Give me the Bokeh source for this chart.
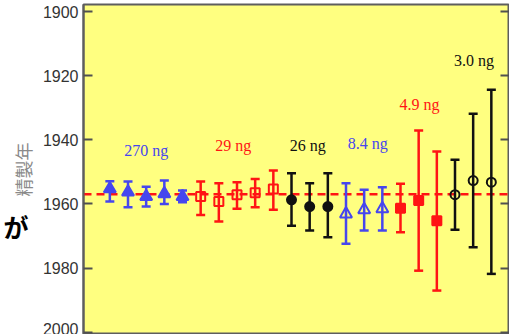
from bokeh.plotting import figure
from bokeh.models import (ColumnDataSource, Range1d, FixedTicker, LinearAxis,
                          Whisker, TeeHead, Span, CustomJSTickFormatter)
from bokeh.core.properties import value
from bokeh.embed import file_html
from bokeh.resources import INLINE

# ---------------- data ----------------
group_names = ["270 ng", "29 ng", "26 ng", "8.4 ng", "4.9 ng", "3.0 ng"]
group_sizes = [5, 5, 3, 3, 3, 3]
group_colors = ["#4646ee", "#ff1414", "#111111", "#4646ee", "#ff1414", "#111111"]
group_markers = ["triangle", "square", "circle", "triangle", "square", "circle"]
group_filled = [True, False, True, False, True, False]
group_marker_size = [12, 9, 9, 12, 9, 9]

# purification year (centre) and error-bar extents
year = [1955.3, 1956.3, 1957.7, 1956.8, 1957.7,
        1957.7, 1959.2, 1957.1, 1956.5, 1955.3,
        1958.7, 1960.8, 1960.8,
        1963.1, 1961.8, 1961.5,
        1961.3, 1958.9, 1965.2,
        1957.1, 1952.7, 1953.2]
err_low = [1952.9, 1953.0, 1954.6, 1952.7, 1955.8,
           1953.0, 1953.5, 1953.2, 1952.2, 1949.6,
           1950.4, 1953.5, 1950.4,
           1953.5, 1955.6, 1954.8,
           1953.7, 1937.1, 1943.6,
           1946.2, 1931.9, 1924.4]
err_high = [1959.2, 1961.0, 1960.8, 1960.0, 1959.5,
            1963.4, 1965.5, 1961.5, 1961.0, 1961.8,
            1966.8, 1968.3, 1970.4,
            1972.4, 1968.3, 1968.3,
            1968.8, 1980.8, 1987.0,
            1968.0, 1973.5, 1981.8]

reference_year = 1957.0

# group label positions (index position, year)
label_x = [3.0, 7.8, 11.9, 15.2, 18.05, 21.05]
label_y = [1943.3, 1941.8, 1941.8, 1941.2, 1929.0, 1915.3]

y_ticks = [1900, 1920, 1940, 1960, 1980, 2000]
y_label = "精製年"
side_text = "が"
side_text_year = 1967   # vertical level of the side character

# ---------------- figure ----------------
p = figure(width=509, height=334, output_backend="svg", toolbar_location=None,
           x_axis_location=None, y_axis_location="left",
           x_range=Range1d(-0.45, 23.0), y_range=Range1d(2000.7, 1897.8),
           min_border_left=77, min_border_right=0, min_border_top=4,
           min_border_bottom=0)
p.background_fill_color = "#ffff80"
p.border_fill_color = "white"
p.outline_line_color = "#5e5e5e"
p.outline_line_width = 2
p.grid.visible = False

ax = p.yaxis[0]
ax.ticker = FixedTicker(ticks=y_ticks)
ax.major_tick_in = 9
ax.major_tick_out = 0
ax.minor_tick_line_color = None
ax.major_tick_line_color = "#505050"
ax.major_tick_line_width = 2
ax.axis_line_color = "#5e5e5e"
ax.axis_line_width = 2
ax.major_label_text_font = "Liberation Sans"
ax.major_label_text_font_size = "16px"
ax.major_label_text_color = "#333333"
ax.major_label_standoff = 5
ax.axis_label = y_label
ax.axis_label_text_font = "Noto Sans CJK JP"
ax.axis_label_text_font_size = "18px"
ax.axis_label_text_font_style = "normal"
ax.axis_label_text_color = "#8a8a8a"
ax.axis_label_standoff = 4

# outer left axis whose single tick label is the large side character
sax = LinearAxis(ticker=FixedTicker(ticks=[side_text_year]),
                 major_label_overrides={side_text_year: side_text},
                 axis_line_color=None, major_tick_line_color=None,
                 minor_tick_line_color=None, major_tick_in=0, major_tick_out=0,
                 major_label_standoff=-22,
                 major_label_text_font="Noto Sans CJK JP",
                 major_label_text_font_size="25px",
                 major_label_text_font_style="bold",
                 major_label_text_color="black")
p.add_layout(sax, "left")

rax = LinearAxis(ticker=FixedTicker(ticks=y_ticks), major_tick_in=9,
                 major_tick_out=0, minor_tick_line_color=None,
                 major_tick_line_color="#505050", major_tick_line_width=2,
                 axis_line_color="#5e5e5e", axis_line_width=2,
                 formatter=CustomJSTickFormatter(code="return ''"),
                 major_label_standoff=0)
p.add_layout(rax, "right")

# reference dashed line
p.add_layout(Span(location=reference_year, dimension="width",
                  line_color="#ff1414", line_width=2.5, line_dash="8 5",
                  level="underlay"))

# points per group
start = 0
for g, n in enumerate(group_sizes):
    idx = list(range(start, start + n))
    start += n
    src = ColumnDataSource(dict(
        x=[i + 1 for i in idx],
        y=[year[i] for i in idx],
        lo=[err_low[i] for i in idx],
        hi=[err_high[i] for i in idx],
    ))
    c = group_colors[g]
    w = Whisker(base="x", lower="lo", upper="hi", source=src,
                dimension="height", line_color=c, line_width=2.5,
                level="glyph",
                lower_head=TeeHead(size=9, line_color=c, line_width=2.5),
                upper_head=TeeHead(size=9, line_color=c, line_width=2.5))
    p.add_layout(w)
    p.scatter("x", "y", source=src, marker=group_markers[g],
              size=group_marker_size[g], line_color=c, line_width=2,
              fill_color=c if group_filled[g] else None)

lab_src = ColumnDataSource(dict(x=label_x, y=label_y, t=group_names,
                                c=group_colors))
p.text("x", "y", text="t", source=lab_src, text_color="c",
       text_font=value("Liberation Serif"), text_font_size="16px",
       text_align="center", text_baseline="middle")

open("out.html", "w").write(file_html(p, INLINE))
